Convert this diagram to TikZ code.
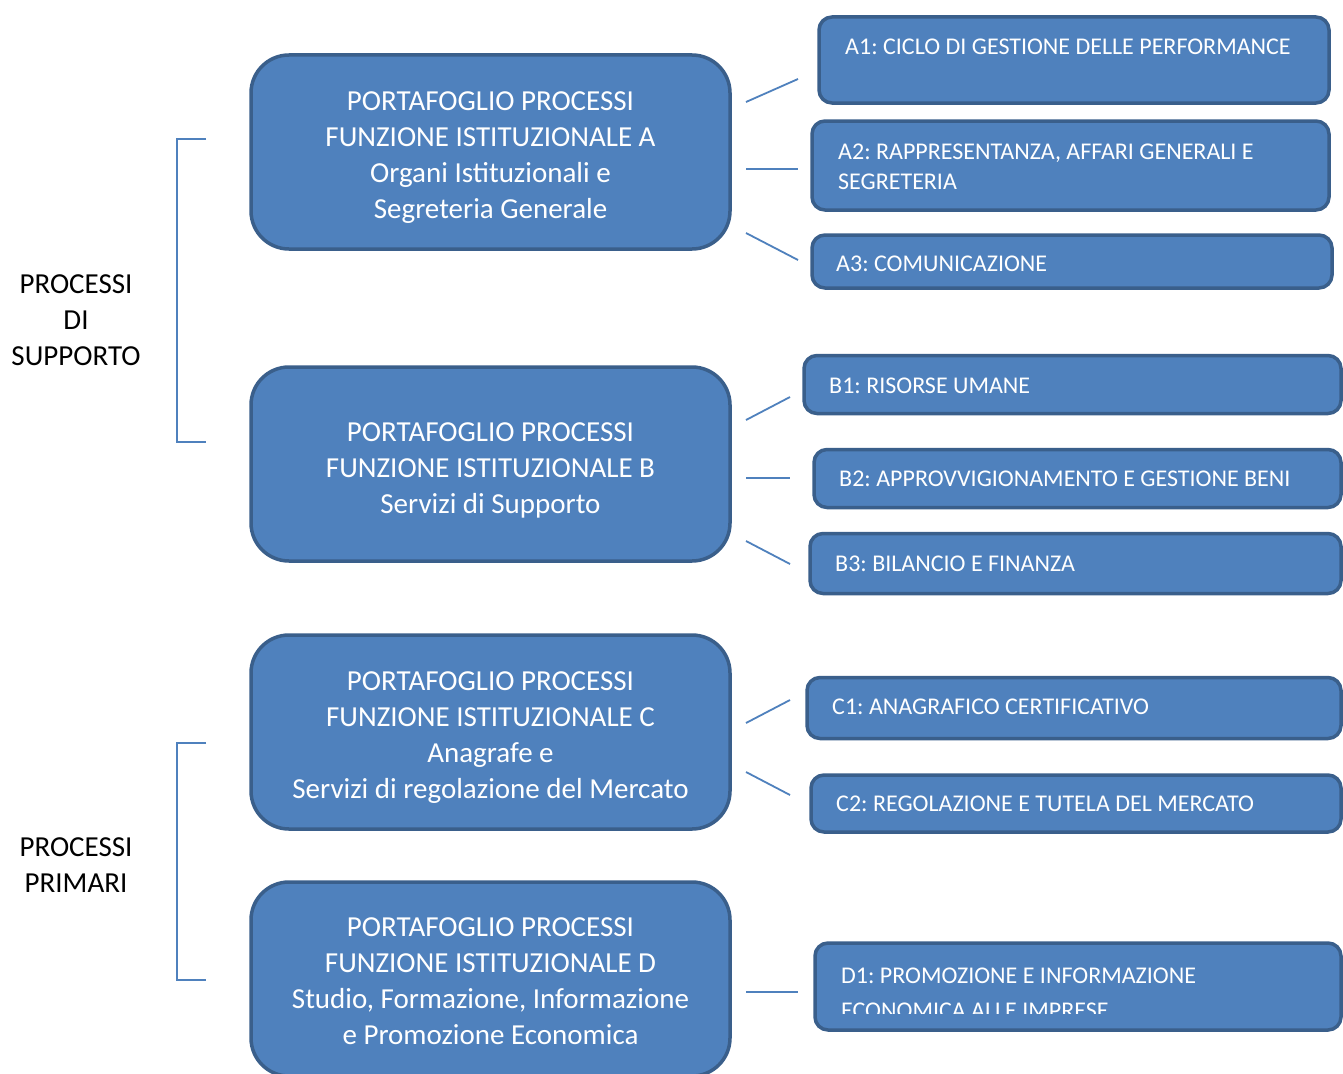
\documentclass[tikz,border=0pt]{standalone}
\usepackage{fontspec}
\setmainfont{Carlito}
\frenchspacing
\definecolor{fillc}{HTML}{4F81BD}
\definecolor{bdr}{HTML}{3A5F8B}
\definecolor{linec}{HTML}{4F81BD}
\newcommand{\bigf}{\fontsize{29}{36}\selectfont\frenchspacing}
\newcommand{\smallf}{\fontsize{24}{30}\selectfont\frenchspacing}
\tikzset{
  bigbox/.style={draw=bdr, fill=fillc, line width=3.5pt, rounded corners=38pt,
    minimum width=479pt, minimum height=194pt, inner sep=0pt},
  bigtext/.style={text=white, font=\bigf, align=center, inner sep=0pt},
  smallbox/.style={draw=bdr, fill=fillc, line width=3.5pt, rounded corners=13pt, inner sep=0pt},
  smalltext/.style={text=white, font=\smallf, align=left, inner sep=0pt, anchor=west},
  conn/.style={draw=linec, line width=1.8pt},
  brack/.style={draw=linec, line width=1.6pt},
  sidelabel/.style={font=\bigf, align=center, text=black, inner sep=0pt}
}
\begin{document}
\begin{tikzpicture}[x=1pt,y=-1pt]
\useasboundingbox (0,0) rectangle (1343,1073);
\fill[white] (0,0) rectangle (1343,1073);
\clip (0,0) rectangle (1343,1073);

% side labels
\node[sidelabel] (sup) at (76,320) {PROCESSI\\DI\\SUPPORTO};
\node[sidelabel] (pri) at (76,865) {PROCESSI\\PRIMARI};

% brackets
\coordinate (b1a) at (206,139);
\coordinate (b1b) at (177,139);
\coordinate (b1c) at (177,442);
\coordinate (b1d) at (206,442);
\draw[brack] (b1a) -- (b1b) -- (b1c) -- (b1d);
\coordinate (b2a) at (206,743);
\coordinate (b2b) at (177,743);
\coordinate (b2c) at (177,980);
\coordinate (b2d) at (206,980);
\draw[brack] (b2a) -- (b2b) -- (b2c) -- (b2d);

% big boxes
\node[bigbox] (A) at (490.5,152) {};
\node[bigtext] (At) at ([yshift=-6pt]A.center) {PORTAFOGLIO PROCESSI\\FUNZIONE ISTITUZIONALE A\\Organi Istituzionali e\\Segreteria Generale};
\node[bigbox] (B) at (490.5,464) {};
\node[bigtext] (Bt) at ([yshift=-6pt]B.center) {PORTAFOGLIO PROCESSI\\FUNZIONE ISTITUZIONALE B\\Servizi di Supporto};
\node[bigbox] (C) at (490.5,732) {};
\node[bigtext] (Ct) at ([yshift=-6pt]C.center) {PORTAFOGLIO PROCESSI\\FUNZIONE ISTITUZIONALE C\\Anagrafe e\\Servizi di regolazione del Mercato};
\node[bigbox] (D) at (490.5,979) {};
\node[bigtext] (Dt) at ([yshift=-2pt]D.center) {PORTAFOGLIO PROCESSI\\FUNZIONE ISTITUZIONALE D\\Studio, Formazione, Informazione\\e Promozione Economica};

% small boxes
\node[smallbox, minimum width=510pt, minimum height=86pt] (A1) at (1074,60) {};
\node[smalltext] (A1t) at (845,47) {A1: CICLO DI GESTIONE DELLE PERFORMANCE};
\node[smallbox, minimum width=517pt, minimum height=89pt] (A2) at (1070.5,165.5) {};
\node[smalltext] (A2t) at (838,167) {A2: RAPPRESENTANZA, AFFARI GENERALI E\\SEGRETERIA};
\node[smallbox, minimum width=520pt, minimum height=53pt] (A3) at (1072,261.5) {};
\node[smalltext] (A3t) at (836,264) {A3: COMUNICAZIONE};
\node[smallbox, minimum width=537pt, minimum height=58pt] (B1) at (1072.5,384.5) {};
\node[smalltext] (B1t) at (829,386) {B1: RISORSE UMANE};
\node[smallbox, minimum width=527pt, minimum height=58pt] (B2) at (1077.5,478.5) {};
\node[smalltext] (B2t) at (839,479) {B2: APPROVVIGIONAMENTO E GESTIONE BENI};
\node[smallbox, minimum width=531pt, minimum height=60pt] (B3) at (1075.5,563.5) {};
\node[smalltext] (B3t) at (835,564) {B3: BILANCIO E FINANZA};
\node[smallbox, minimum width=534pt, minimum height=61pt] (C1) at (1074,708) {};
\node[smalltext] (C1t) at (832,707) {C1: ANAGRAFICO CERTIFICATIVO};
\node[smallbox, minimum width=530pt, minimum height=57pt] (C2) at (1076,803.5) {};
\node[smalltext] (C2t) at (836,804) {C2: REGOLAZIONE E TUTELA DEL MERCATO};
\node[smallbox, minimum width=526pt, minimum height=87pt] (D1) at (1078,986.5) {};
\begin{scope}
  \clip (815,943) rectangle (1341,1013);
  \node[smalltext, font=\fontsize{24}{35}\selectfont] (D1t) at (841,993.5) {D1: PROMOZIONE E INFORMAZIONE\\ECONOMICA ALLE IMPRESE};
\end{scope}

% connectors
\coordinate (a1s) at (746,102); \coordinate (a1e) at (798,79);
\coordinate (a2s) at (746,169); \coordinate (a2e) at (798,169);
\coordinate (a3s) at (746,233); \coordinate (a3e) at (798,260);
\coordinate (b1s) at (746,420); \coordinate (b1e) at (790,397);
\coordinate (b2s) at (746,478); \coordinate (b2e) at (790,478);
\coordinate (b3s) at (746,541); \coordinate (b3e) at (790,564);
\coordinate (c1s) at (746,723); \coordinate (c1e) at (790,700);
\coordinate (c2s) at (746,772); \coordinate (c2e) at (790,795);
\coordinate (d1s) at (746,992); \coordinate (d1e) at (798,992);
\draw[conn] (a1s) -- (a1e);
\draw[conn] (a2s) -- (a2e);
\draw[conn] (a3s) -- (a3e);
\draw[conn] (b1s) -- (b1e);
\draw[conn] (b2s) -- (b2e);
\draw[conn] (b3s) -- (b3e);
\draw[conn] (c1s) -- (c1e);
\draw[conn] (c2s) -- (c2e);
\draw[conn] (d1s) -- (d1e);
\end{tikzpicture}
\end{document}
